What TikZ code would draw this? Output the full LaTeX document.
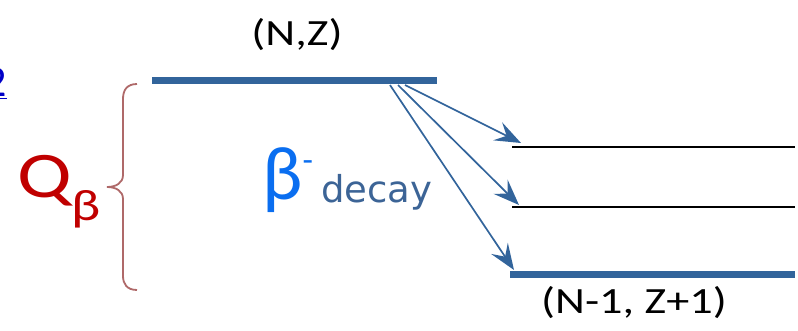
\documentclass[tikz,border=0pt]{standalone}
\usepackage{fontspec}
\setmainfont{Carlito}
\newfontfamily\decayfont{DejaVu Sans}
\usetikzlibrary{arrows.meta}
\definecolor{levelblue}{RGB}{50,100,155}
\definecolor{qred}{RGB}{192,0,0}
\definecolor{betablue}{RGB}{10,110,240}
\definecolor{decayblue}{RGB}{60,100,150}
\definecolor{bracered}{RGB}{175,105,105}
\definecolor{linkblue}{RGB}{0,0,200}
\tikzset{
  thicklevel/.style={levelblue, line width=7pt},
  thinlevel/.style={black, line width=1.3pt},
  decayarrow/.style={levelblue, line width=1.7pt, -{Stealth[length=26pt,width=20pt,inset=10pt]}},
  label/.style={inner sep=0pt, anchor=base, font=\fontsize{37}{40}\selectfont},
}
\newcommand{\wide}[1]{\scalebox{1.25}[1]{#1}}
\begin{document}
\begin{tikzpicture}[x=1pt,y=-1pt]
\useasboundingbox (0,0) rectangle (798,331);
\begin{scope}
\clip (0,0) rectangle (798,331);
\node[inner sep=0pt, anchor=base east, text=linkblue, font=\fontsize{44}{48}\selectfont] (link) at (7,97) {\underline{2}};
\end{scope}
% levels
\coordinate (p0) at (152,81);
\coordinate (p1) at (437,81);
\draw[thicklevel] (p0) -- (p1);
\coordinate (a0) at (512,147);
\coordinate (a1) at (795,147);
\draw[thinlevel] (a0) -- (a1);
\coordinate (b0) at (512,207);
\coordinate (b1) at (795,207);
\draw[thinlevel] (b0) -- (b1);
\coordinate (c0) at (510,274);
\coordinate (c1) at (795,274);
\draw[thicklevel] (c0) -- (c1);
% arrows
\coordinate (s1) at (405,85);
\coordinate (s2) at (398,85);
\coordinate (s3) at (390,85);
\coordinate (t1) at (521,143);
\coordinate (t2) at (519,205);
\coordinate (t3) at (514,270);
\draw[decayarrow] (s1) -- (t1);
\draw[decayarrow] (s2) -- (t2);
\draw[decayarrow] (s3) -- (t3);
% labels
\node[label] (nz) at (297,46) {\wide{(N,Z)}};
\node[label] (nz1) at (634,313) {\wide{(N-1, Z+1)}};
% brace
\draw[bracered, line width=1.8pt] (137,84) .. controls (127,84) and (123,90) .. (123,99)
  -- (123,175) .. controls (123,183) and (116,187) .. (107,187)
  .. controls (116,187) and (123,191) .. (123,199)
  -- (123,276) .. controls (123,284) and (127,290) .. (137,290);
\node[inner sep=0pt, anchor=base west, text=qred] (q) at (17,198)
  {\wide{\fontsize{65}{68}\selectfont Q\raisebox{-23pt}{\fontsize{44}{46}\selectfont β}}};
% beta decay
\node[inner sep=0pt, anchor=base west, text=betablue] (beta) at (262,200)
  {\fontsize{76}{80}\selectfont β\raisebox{28pt}{\fontsize{34}{36}\selectfont -}};
\node[inner sep=0pt, anchor=base west, text=decayblue] (decay) at (321,203)
  {\decayfont\fontsize{37}{40}\selectfont decay};
\end{tikzpicture}
\end{document}
